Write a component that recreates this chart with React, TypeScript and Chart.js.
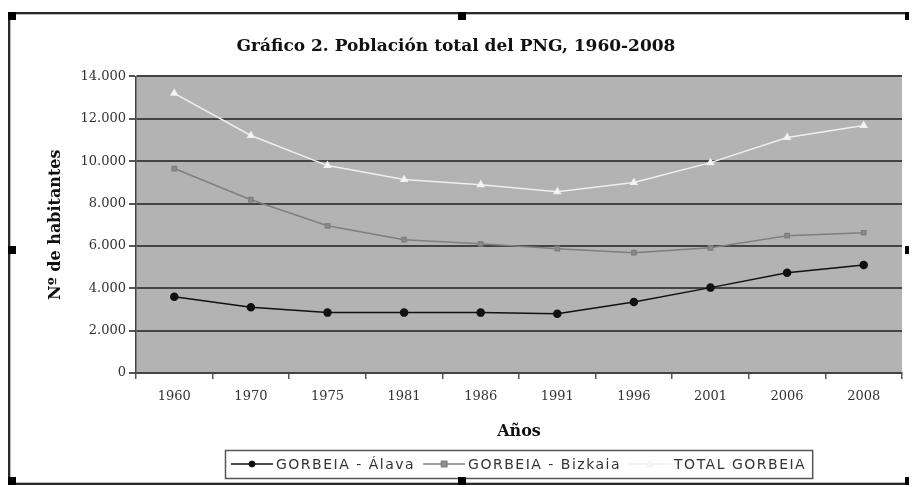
import React, { useEffect, useRef } from 'react';
import { Chart, registerables } from 'chart.js';

Chart.register(...registerables);

const TITLE = 'Gráfico 2. Población total del PNG, 1960-2008';
const Y_TITLE = 'Nº de habitantes';
const X_TITLE = 'Años';

const years = ['1960', '1970', '1975', '1981', '1986', '1991', '1996', '2001', '2006', '2008'];
const alava = [3600, 3100, 2850, 2850, 2850, 2800, 3350, 4030, 4730, 5100];
const bizkaia = [9650, 8180, 6950, 6290, 6100, 5870, 5680, 5910, 6480, 6620];
const total = [13200, 11210, 9790, 9130, 8890, 8560, 8990, 9930, 11120, 11680];
const seriesLabels = ['GORBEIA - Álava', 'GORBEIA - Bizkaia', 'TOTAL GORBEIA'];
const yMin = 0;
const yMax = 14000;
const yStep = 2000;

const SERIF = '"DejaVu Serif", "Liberation Serif", serif';
const SANS = '"DejaVu Sans", "Liberation Sans", sans-serif';

const fmt = (v: number) => String(v).replace(/\B(?=(\d{3})+(?!\d))/g, '.');

const plotBg = {
  id: 'plotBg',
  beforeDraw(chart: any) {
    const { ctx, chartArea: a } = chart;
    ctx.save();
    ctx.fillStyle = '#b3b3b3';
    ctx.fillRect(a.left, a.top, a.right - a.left, a.bottom - a.top);
    ctx.restore();
  },
};

function marker(ctx: CanvasRenderingContext2D, style: string, x: number, y: number, r: number, fill: string, stroke: string) {
  ctx.save();
  ctx.fillStyle = fill;
  ctx.strokeStyle = stroke;
  ctx.lineWidth = 1;
  ctx.beginPath();
  if (style === 'rect') {
    ctx.rect(x - r, y - r, 2 * r, 2 * r);
  } else if (style === 'triangle') {
    ctx.moveTo(x, y - r * 1.2);
    ctx.lineTo(x + r * 1.1, y + r * 0.8);
    ctx.lineTo(x - r * 1.1, y + r * 0.8);
    ctx.closePath();
  } else {
    ctx.arc(x, y, r, 0, Math.PI * 2);
  }
  ctx.fill();
  ctx.stroke();
  ctx.restore();
}

const boxLegend = {
  id: 'boxLegend',
  afterDraw(chart: any) {
    const ctx: CanvasRenderingContext2D = chart.ctx;
    const a = chart.chartArea;
    ctx.save();
    ctx.font = `14px ${SANS}`;
    (ctx as any).letterSpacing = '1.5px';
    const lineLen = 42, gap1 = 3, gap2 = 8, padX = 6;
    const items = chart.data.datasets.map((ds: any) => ({ ds, w: ctx.measureText(ds.label).width }));
    const width = items.reduce((s: number, it: any) => s + lineLen + gap1 + it.w + gap2, 0) - gap2 + padX * 2;
    const cx = (a.left + a.right) / 2;
    const left = Math.round(cx - width / 2);
    const h = 28;
    const top = chart.height - 33;
    const cy = top + h / 2;
    ctx.strokeStyle = '#555';
    ctx.lineWidth = 1.5;
    ctx.strokeRect(left + 0.5, top + 0.5, width, h);
    let x = left + padX;
    items.forEach((it: any) => {
      const ds = it.ds;
      ctx.save();
      ctx.strokeStyle = ds.borderColor;
      ctx.lineWidth = 1.5;
      ctx.beginPath();
      ctx.moveTo(x, cy);
      ctx.lineTo(x + lineLen, cy);
      ctx.stroke();
      ctx.restore();
      marker(ctx, ds.pointStyle, x + lineLen / 2, cy, 3, ds.pointBackgroundColor, ds.pointBorderColor);
      ctx.fillStyle = '#333';
      ctx.textBaseline = 'middle';
      ctx.textAlign = 'left';
      ctx.fillText(ds.label, x + lineLen + gap1, cy + 1);
      x += lineLen + gap1 + it.w + gap2;
    });
    ctx.restore();
  },
};

function ChartBox() {
  const ref = useRef<HTMLCanvasElement | null>(null);
  useEffect(() => {
    if (!ref.current) return;
    const chart = new Chart(ref.current, {
      type: 'line',
      data: {
        labels: years,
        datasets: [
          {
            label: seriesLabels[0],
            data: alava,
            borderColor: '#111111',
            borderWidth: 1.5,
            pointStyle: 'circle',
            pointRadius: 3.5,
            pointBackgroundColor: '#111111',
            pointBorderColor: '#111111',
          },
          {
            label: seriesLabels[1],
            data: bizkaia,
            borderColor: '#7f7f7f',
            borderWidth: 1.5,
            pointStyle: 'rect',
            pointRadius: 3,
            pointBackgroundColor: '#8c8c8c',
            pointBorderColor: '#7f7f7f',
          },
          {
            label: seriesLabels[2],
            data: total,
            borderColor: '#efefef',
            borderWidth: 1.5,
            pointStyle: 'triangle',
            pointRadius: 3.5,
            pointBackgroundColor: '#f8f8f8',
            pointBorderColor: '#f0f0f0',
          },
        ] as any,
      },
      options: {
        animation: false,
        responsive: true,
        maintainAspectRatio: false,
        layout: { padding: { top: 22, left: 0, right: 9, bottom: 42 } },
        plugins: {
          legend: { display: false },
          tooltip: { enabled: false },
          title: {
            display: true,
            text: TITLE,
            color: '#111',
            font: { family: SERIF, size: 17, weight: 'bold' },
            padding: { top: 0, bottom: 20 },
          },
        },
        scales: {
          x: {
            type: 'category',
            offset: true,
            grid: { offset: true, drawOnChartArea: false, drawTicks: true, tickLength: 6, color: '#555', lineWidth: 1.5 },
            border: { display: true, color: '#444', width: 1.5 },
            ticks: { color: '#333', font: { family: SERIF, size: 13 }, padding: 10, maxRotation: 0, autoSkip: false },
            title: { display: true, text: X_TITLE, color: '#111', font: { family: SERIF, size: 16, weight: 'bold' }, padding: { top: 0, bottom: 0 } },
            afterFit: (s: any) => { s.height = 68; },
          },
          y: {
            min: yMin,
            max: yMax,
            grid: { color: '#444', lineWidth: 2, tickLength: 7, drawTicks: true, tickColor: '#555' },
            border: { display: true, color: '#444', width: 1.5 },
            ticks: { stepSize: yStep, color: '#333', font: { family: SERIF, size: 13 }, padding: 3, callback: (v: any) => fmt(Number(v)) },
            title: { display: true, text: Y_TITLE, color: '#111', font: { family: SERIF, size: 16, weight: 'bold' }, padding: { top: 36, bottom: 0 } },
            afterFit: (s: any) => { s.width = 126; },
          },
        },
      } as any,
      plugins: [plotBg, boxLegend],
    });
    return () => chart.destroy();
  }, []);
  return (
    <div style={{ position: 'relative', width: '100%', height: '100%' }}>
      <canvas ref={ref} />
    </div>
  );
}

const handle = (left: number, top: number) => (
  <div key={`${left}-${top}`} style={{ position: 'absolute', left, top, width: 8, height: 8, background: '#000' }} />
);

export default function App() {
  return (
    <div
      style={{
        position: 'relative',
        marginTop: 4,
        width: 905,
        height: 473,
        boxSizing: 'border-box',
        border: '2px solid #2a2a2a',
        boxShadow: 'inset 0 0 0 1px #bbb',
        background: '#fff',
      }}
    >
      <ChartBox />
      {[ [-2, -2], [448, -2], [895, -2], [-2, 232], [895, 232], [-2, 463], [448, 463], [895, 463] ].map(([l, t]) => handle(l, t))}
    </div>
  );
}
